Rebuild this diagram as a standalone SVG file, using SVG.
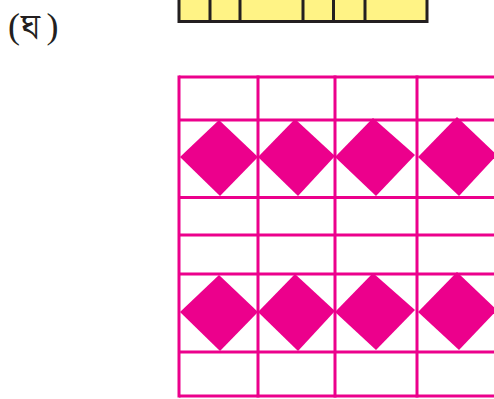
<svg xmlns="http://www.w3.org/2000/svg" width="494" height="399" viewBox="0 0 494 399">
<style>
.lbl{font-family:"Liberation Serif","Noto Serif Bengali","Noto Sans Bengali",serif;font-size:36px;fill:#231f20}
.bn{font-family:"Noto Serif Bengali","Noto Sans Bengali","Lohit Bengali",serif;font-size:36px;font-weight:normal}
.cell{fill:#fff385;stroke:#231f20;stroke-width:3}
.grid{stroke:#ec008c;stroke-width:3;fill:none}
.dia{fill:#ec008c}
</style>
<rect width="494" height="399" fill="#fff"/>
<g id="label"><text class="lbl" x="8" y="38">(<tspan class="bn" x="21" y="39">ঘ</tspan><tspan x="46.5" y="38">)</tspan></text></g>
<g id="yellow-strip">
<rect class="cell" x="179" y="-5" width="248" height="26.5"/>
<line class="cell" x1="210" y1="-5" x2="210" y2="21.5"/>
<line class="cell" x1="240" y1="-5" x2="240" y2="21.5"/>
<line class="cell" x1="303" y1="-5" x2="303" y2="21.5"/>
<line class="cell" x1="333.5" y1="-5" x2="333.5" y2="21.5"/>
<line class="cell" x1="365" y1="-5" x2="365" y2="21.5"/>
</g>
<g id="diamonds">
<polygon class="dia" points="219,120 258,157 220,196 180,157"/>
<polygon class="dia" points="295,119 335,156 298,196 258,157"/>
<polygon class="dia" points="373,118 415,155 376,196 335,157"/>
<polygon class="dia" points="457,117 497,155 459,196 418,157"/>
<polygon class="dia" points="219,275 258,312 220,351 180,312"/>
<polygon class="dia" points="295,274 335,311 298,351 258,312"/>
<polygon class="dia" points="373,273 415,310 376,350 335,312"/>
<polygon class="dia" points="457,272 497,310 459,350 418,312"/>
</g>
<g id="grid" class="grid">
<line x1="179" y1="77" x2="494" y2="77"/>
<line x1="179" y1="120" x2="494" y2="120"/>
<line x1="179" y1="197.5" x2="494" y2="197.5"/>
<line x1="179" y1="235" x2="494" y2="235"/>
<line x1="179" y1="274" x2="494" y2="274"/>
<line x1="179" y1="352" x2="494" y2="352"/>
<line x1="179" y1="396" x2="494" y2="396"/>
<line x1="179" y1="75.5" x2="179" y2="397.5"/>
<line x1="258" y1="75.5" x2="258" y2="397.5"/>
<line x1="335" y1="75.5" x2="335" y2="397.5"/>
<line x1="417" y1="75.5" x2="417" y2="397.5"/>
</g>
</svg>
